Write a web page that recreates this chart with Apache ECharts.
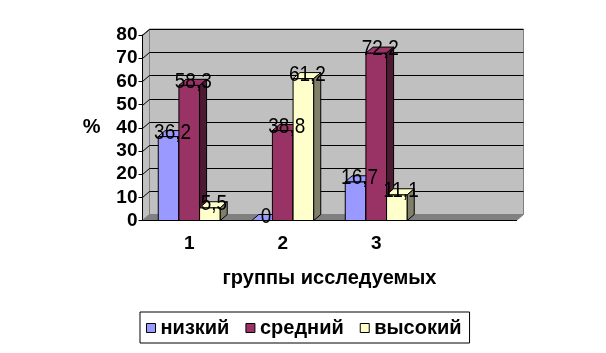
<!DOCTYPE html>
<html>
<head>
<meta charset="utf-8">
<script src="https://cdn.jsdelivr.net/npm/echarts@6/dist/echarts.min.js"></script>
<style>
  html, body { margin: 0; padding: 0; background: #fff; }
  #chart { width: 606px; height: 353px; }
</style>
</head>
<body>
<div id="chart"></div>
<script>
// данные с картинки
const categories = ['1', '2', '3', ''];
const seriesNames = ['низкий', 'средний', 'высокий'];
const low = [36.2, 0, 16.7];
const mid = [58.3, 38.8, 72.2];
const high = [5.5, 61.2, 11.1];

const FONT = '"Liberation Sans", Arial, sans-serif';
const DX = 7, DY = -6; // глубина "3D"

function fmt(v) {
  return String(v).replace('.', ',');
}

// стенки и пол
function renderWalls(params, api) {
  const cs = params.coordSys;
  const L = cs.x, R = cs.x + cs.width, T = cs.y, B = cs.y + cs.height;
  const children = [
    { type: 'polygon', shape: { points: [[L, T], [L + DX, T + DY], [L + DX, B + DY], [L, B]] },
      style: { fill: '#c0c0c0', stroke: '#808080', lineWidth: 1 } },
    { type: 'rect', shape: { x: L + DX, y: T + DY, width: cs.width, height: cs.height },
      style: { fill: '#c0c0c0', stroke: '#808080', lineWidth: 1 } },
    { type: 'polygon', shape: { points: [[L, B], [L + DX, B + DY], [R + DX, B + DY], [R, B]] },
      style: { fill: '#808080', stroke: '#808080', lineWidth: 1 } }
  ];
  for (let v = 10; v <= 80; v += 10) {
    const y = Math.round(api.coord([0, v])[1]) + 0.5;
    children.push({ type: 'polyline',
      shape: { points: [[L, y], [L + DX, y + DY], [R + DX, y + DY]] },
      style: { stroke: '#000', lineWidth: 1, fill: null } });
  }
  return { type: 'group', children: children };
}

function makeBar(k, side) {
  return function (params, api) {
    const idx = api.value(0), v = api.value(1);
    const top = api.coord([idx, v]);
    const bottom = api.coord([idx, 0]);
    const w = api.size([1, 0])[0] * 0.221;
    const x0 = top[0] + k * w - w / 2, x1 = x0 + w;
    const yt = top[1], yb = bottom[1];
    const color = api.visual('color');
    const ln = { stroke: '#000', lineWidth: 1 };
    return {
      type: 'group',
      children: [
        { type: 'rect', shape: { x: x0, y: yt, width: w, height: yb - yt },
          style: Object.assign({ fill: color }, ln) },
        { type: 'polygon', shape: { points: [[x0, yt], [x0 + DX, yt + DY], [x1 + DX, yt + DY], [x1, yt]] },
          style: Object.assign({ fill: color }, ln) },
        { type: 'polygon', shape: { points: [[x1, yt], [x1 + DX, yt + DY], [x1 + DX, yb + DY], [x1, yb]] },
          style: Object.assign({ fill: side }, ln) },
        { type: 'text', z2: 100, x: (x0 + x1) / 2 + 4, y: yt - 4, scaleY: 1.2,
          style: { text: fmt(v), x: 0, y: 0, align: 'center', verticalAlign: 'middle',
            font: '19px ' + FONT, fill: '#000' } }
      ]
    };
  };
}

const colors = ['#9999ff', '#993366', '#ffffcc'];
const sides = ['#4d4d80', '#4d1a33', '#80806a'];
const values = [low, mid, high];

const chart = echarts.init(document.getElementById('chart'));
const option = {
  animation: false,
  grid: { left: 142.5, right: 89.5, top: 35, bottom: 132.5 },
  legend: {
    data: seriesNames,
    left: 140, top: 312,
    icon: 'rect', itemWidth: 9, itemHeight: 9, itemGap: 16,
    borderColor: '#000', borderWidth: 1, padding: [6, 8, 5, 6],
    itemStyle: { borderColor: '#000', borderWidth: 1 },
    textStyle: { fontSize: 20, fontWeight: 'bold', fontFamily: FONT, color: '#000' }
  },
  xAxis: {
    type: 'category', data: categories, z: 10,
    name: 'группы исследуемых', nameLocation: 'middle', nameGap: 48,
    nameTextStyle: { fontSize: 20, fontWeight: 'bold', fontFamily: FONT, color: '#000' },
    axisLine: { lineStyle: { color: '#000', width: 1 } },
    axisTick: { length: 5, lineStyle: { color: '#000' } },
    axisLabel: { fontSize: 19, fontWeight: 'bold', fontFamily: FONT, color: '#000', margin: 14 }
  },
  yAxis: {
    type: 'value', min: 0, max: 80, interval: 10, z: 10,
    name: '%', nameLocation: 'middle', nameRotate: 0, nameGap: 42,
    nameTextStyle: { fontSize: 20, fontWeight: 'bold', fontFamily: FONT, color: '#000' },
    axisLine: { show: true, lineStyle: { color: '#000', width: 1 } },
    axisTick: { show: true, length: 4, lineStyle: { color: '#000' } },
    splitLine: { show: false },
    axisLabel: { fontSize: 19, fontWeight: 'bold', fontFamily: FONT, color: '#000', margin: 5 }
  },
  series: [
    { type: 'custom', name: 'walls', silent: true, z: 1, data: [[0, 0]],
      encode: { x: 0, y: 1 }, renderItem: renderWalls }
  ].concat(seriesNames.map(function (name, i) {
    return {
      type: 'custom', name: name, z: 2,
      itemStyle: { color: colors[i], borderColor: '#000', borderWidth: 1 },
      data: values[i].map(function (v, j) { return [j, v]; }),
      encode: { x: 0, y: 1 },
      renderItem: makeBar(i - 1, sides[i])
    };
  }))
};
chart.setOption(option);
</script>
</body>
</html>
